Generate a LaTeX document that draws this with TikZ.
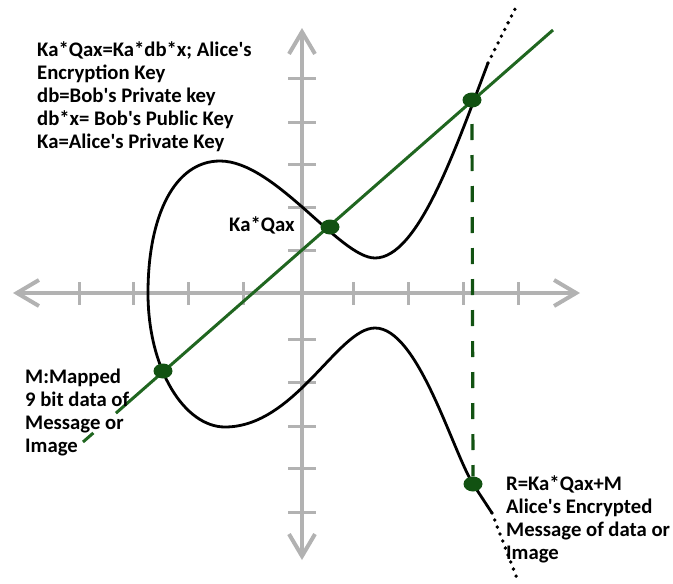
\documentclass[tikz,border=0pt]{standalone}
\usepackage{fontspec}
\setmainfont{Carlito}
\usetikzlibrary{arrows.meta,calc,shapes.geometric}
\definecolor{axisgray}{RGB}{178,178,178}
\definecolor{lineg}{RGB}{32,102,32}
\definecolor{dotg}{RGB}{18,82,18}
\newcommand{\apos}{\textquotesingle}
\begin{document}
\begin{tikzpicture}[x=1pt,y=-1pt,
  axisline/.style={draw=axisgray, line width=4pt, -{Straight Barb[length=22pt,width=26pt]}},
  tickmark/.style={draw=axisgray, line width=3pt},
  curveline/.style={draw=black, line width=2.8pt},
  dotline/.style={draw=black, line width=3.8pt, line cap=round, dash pattern=on 0pt off 7.5pt},
  secant/.style={draw=lineg, line width=3pt},
  vdash/.style={draw=dotg, line width=3.2pt, dash pattern=on 16pt off 15pt},
  gdot/.style={shape=ellipse, fill=dotg, minimum width=19pt, minimum height=15pt, inner sep=0pt},
  lbl/.style={font=\fontsize{20.7}{23}\selectfont\bfseries, align=left, inner sep=0pt, anchor=north west, text=black}]
\useasboundingbox (0,0) rectangle (673,584);
% axes
\coordinate (xl) at (13,293); \coordinate (xr) at (580,293);
\coordinate (yt) at (302,28); \coordinate (yb) at (302,560);
\coordinate (xs) at (302,293);
\draw[axisline] (xs) -- (xl);
\draw[axisline] (xs) -- (xr);
\draw[axisline] (xs) -- (yt);
\draw[axisline] (xs) -- (yb);
\foreach \x in {79,133,188,243,353,408,463,518} \draw[tickmark] (\x,282) -- (\x,305);
\foreach \y in {78,122,164,207,250,339,382,426,468,512} \draw[tickmark] (288,\y) -- (316,\y);
% curve
\coordinate (cu) at (488,63); \coordinate (cue) at (518,3);
\coordinate (cl) at (492,513); \coordinate (cle) at (518,581);
\draw[curveline] (cu) .. controls (455,150) and (418,258) .. (375,258)
  .. controls (340,258) and (275,161) .. (220,161)
  .. controls (175,161) and (148,215) .. (148,293)
  .. controls (148,370) and (185,427) .. (225,427)
  .. controls (295,427) and (338,328) .. (375,328)
  .. controls (418,328) and (452,450) .. (473,484) -- (cl);
\draw[dotline] (cu) -- (cue);
\draw[dotline] (cl) -- (cle);
% secant line
\coordinate (g1) at (83,442); \coordinate (g2) at (553,30);
\draw[secant] (g1) -- ($(g1)!0.022!(g2)$);
\draw[secant] ($(g1)!0.070!(g2)$) -- (g2);
% points
\node[gdot] (pm) at (163,371) {};
\node[gdot] (pk) at (330,227) {};
\node[gdot] (p3) at (472,100) {};
\node[gdot] (pr) at (473,484) {};
\coordinate (vtop) at (472,124);
\draw[vdash] (vtop) -- (pr.north);
% labels
\node[lbl] (t1) at (37,41) {Ka*Qax=Ka*db*x; Alice\apos s\\Encryption Key\\db=Bob\apos s Private key\\db*x= Bob\apos s Public Key\\Ka=Alice\apos s Private Key};
\node[lbl] (t2) at (229,216) {Ka*Qax};
\node[lbl] (t3) at (25,369) {M:Mapped\\9 bit data of\\Message or\\Image};
\node[lbl] (t4) at (506,475) {R=Ka*Qax+M\\Alice\apos s Encrypted\\Message of data or\\Image};
\end{tikzpicture}
\end{document}
